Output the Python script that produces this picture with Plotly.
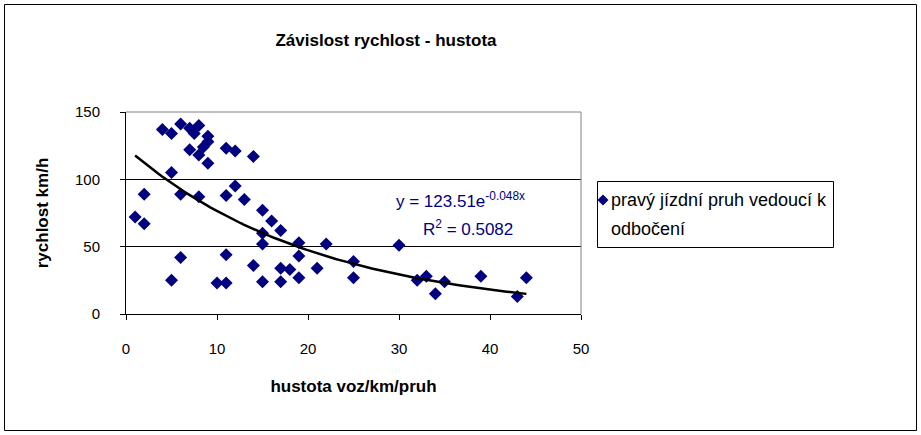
import numpy as np
import plotly.graph_objects as go

# data: density (veh/km/lane) vs speed (km/h)
hustota = [4, 5, 6, 7, 8, 7.5, 9, 9, 7, 8, 9, 8.5,
           11, 12, 14, 5, 2, 6, 8, 11, 12, 13, 15, 16, 17, 1, 2,
           15, 15, 19, 22, 30, 19, 25, 6, 11, 14, 17, 18, 21, 19, 25,
           5, 10, 11, 15, 17, 32, 33, 34, 35, 39, 43, 44]
rychlost = [137, 134, 141, 138, 140, 134, 132, 128, 122, 118, 112, 124,
            123, 121, 117, 105, 89, 89, 87, 88, 95, 85, 77, 69, 62, 72, 67,
            60, 52, 53, 52, 51, 43, 39, 42, 44, 36, 34, 33, 34, 27, 27,
            25, 23, 23, 24, 24, 25, 28, 15, 24, 28, 13, 27]

# trendline parameters as printed on the chart
trend_a = 123.51
trend_b = -0.048
eq_text = "y = 123.51e<sup>-0.048x</sup>"
r2_text = "R<sup>2</sup> = 0.5082"

legend_line1 = "pravý jízdní pruh vedoucí k"
legend_line2 = "odbočení"
title_text = "Závislost rychlost - hustota"
x_title = "hustota voz/km/pruh"
y_title = "rychlost km/h"

W, H = 921, 435
L, R, T, B = 126, 340, 112, 121
pw, ph = W - L - R, H - T - B


def pxx(px):
    return (px - L) / pw


def pxy(py):
    return (H - B - py) / ph


xt = np.linspace(min(hustota), max(hustota), 120)
yt = trend_a * np.exp(trend_b * xt)

font = "Arial, Liberation Sans, sans-serif"
navy = "#000080"

fig = go.Figure()
fig.add_trace(go.Scatter(
    x=hustota, y=rychlost, mode="markers", name=legend_line1 + " " + legend_line2,
    marker=dict(symbol="diamond", size=10, color=navy, line=dict(width=0)),
    showlegend=False,
))
fig.add_trace(go.Scatter(
    x=xt, y=yt, mode="lines", showlegend=False,
    line=dict(color="black", width=2.5),
))

# legend diamond geometry (pixels)
dcx, dcy, dr = 603, 200, 5.5
diamond_path = "M {:.5f},{:.5f} L {:.5f},{:.5f} L {:.5f},{:.5f} L {:.5f},{:.5f} Z".format(
    pxx(dcx), pxy(dcy - dr), pxx(dcx + dr), pxy(dcy),
    pxx(dcx), pxy(dcy + dr), pxx(dcx - dr), pxy(dcy))

fig.update_layout(
    width=W, height=H,
    margin=dict(l=L, r=R, t=T, b=B),
    paper_bgcolor="white", plot_bgcolor="white",
    font=dict(family=font, size=15, color="black"),
    title=dict(text="<b>" + title_text + "</b>", x=pxx(386), xref="paper",
               xanchor="center", y=1 - 40 / H, yanchor="middle",
               font=dict(size=17, family=font)),
    showlegend=False,
    xaxis=dict(range=[0, 50], dtick=10, tick0=0, showgrid=False, zeroline=False,
               showline=True, linecolor="black", linewidth=1,
               ticks="outside", ticklen=5, tickcolor="black",
               tickfont=dict(size=15), ticklabelstandoff=16,
               title=dict(text="<b>" + x_title + "</b>", font=dict(size=17), standoff=24)),
    yaxis=dict(range=[0, 150], dtick=50, tick0=0, showgrid=True, gridcolor="black",
               gridwidth=1, zeroline=False,
               showline=True, linecolor="black", linewidth=1,
               ticks="outside", ticklen=5, tickcolor="black",
               tickfont=dict(size=15), ticklabelstandoff=17,
               title=dict(text="<b>" + y_title + "</b>", font=dict(size=17), standoff=22)),
    shapes=[
        dict(type="line", xref="paper", yref="paper", x0=0, x1=1, y0=1, y1=1,
             line=dict(color="#808080", width=1), layer="above"),
        dict(type="line", xref="paper", yref="paper", x0=1, x1=1, y0=0, y1=1,
             line=dict(color="#808080", width=1), layer="above"),
        # outer chart border
        dict(type="rect", xref="paper", yref="paper",
             x0=pxx(4.5), x1=pxx(916.5), y0=pxy(430.5), y1=pxy(4.5),
             line=dict(color="black", width=1), layer="below"),
        # legend box
        dict(type="rect", xref="paper", yref="paper",
             x0=pxx(597.5), x1=pxx(833.5), y0=pxy(247.5), y1=pxy(181.5),
             line=dict(color="black", width=1), fillcolor="white", layer="below"),
        dict(type="path", xref="paper", yref="paper", path=diamond_path,
             fillcolor=navy, line=dict(width=0), layer="above"),
    ],
    annotations=[
        dict(text=eq_text, xref="paper", yref="paper", x=pxx(460), y=pxy(200),
             showarrow=False, xanchor="center", yanchor="middle",
             font=dict(size=17, color=navy, family=font)),
        dict(text=r2_text, xref="paper", yref="paper", x=pxx(468), y=pxy(228),
             showarrow=False, xanchor="center", yanchor="middle",
             font=dict(size=17, color=navy, family=font)),
        dict(text=legend_line1, xref="paper", yref="paper", x=pxx(609), y=pxy(200),
             showarrow=False, xanchor="left", yanchor="middle",
             font=dict(size=18, color="black", family=font)),
        dict(text=legend_line2, xref="paper", yref="paper", x=pxx(609), y=pxy(229),
             showarrow=False, xanchor="left", yanchor="middle",
             font=dict(size=18, color="black", family=font)),
    ],
)

fig.write_html("out.html", config={"displayModeBar": False},
               post_script="document.body.style.margin='0';document.body.style.overflow='hidden';")
